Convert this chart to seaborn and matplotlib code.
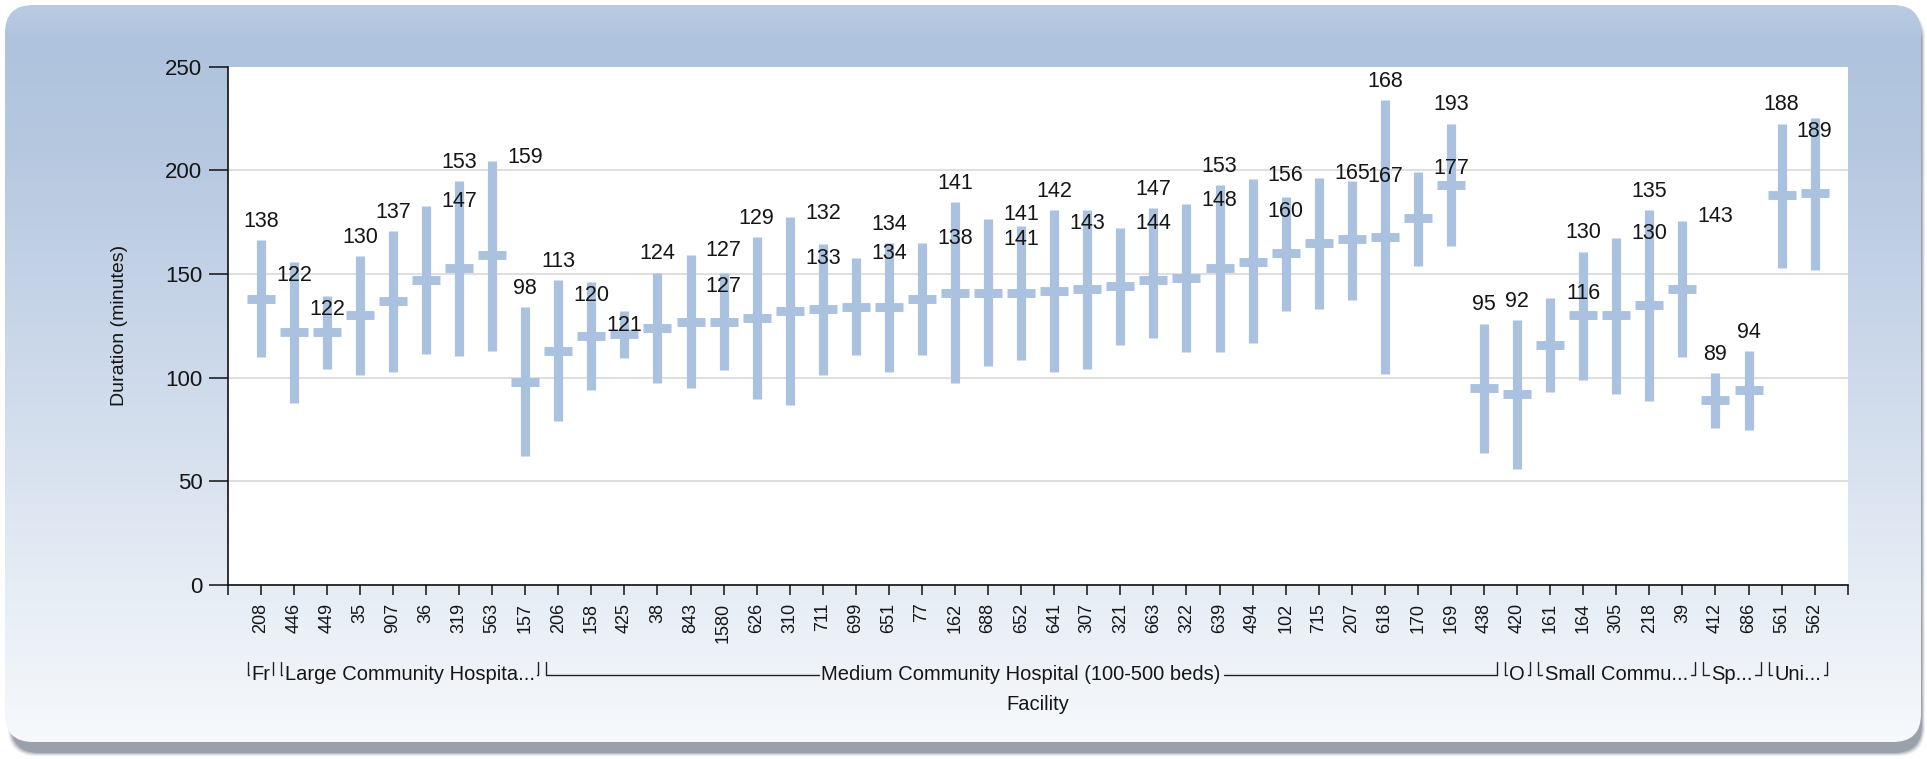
import numpy as np
import pandas as pd
import matplotlib
matplotlib.use("Agg")
import matplotlib.pyplot as plt
from matplotlib.patches import FancyBboxPatch
from matplotlib.colors import to_rgb
import seaborn as sns

# ---------------- data ----------------
facilities = ['208', '446', '449', '35', '907', '36', '319', '563', '157', '206',
              '158', '425', '38', '843', '1580', '626', '310', '711', '699', '651',
              '77', '162', '688', '652', '641', '307', '321', '663', '322', '639',
              '494', '102', '715', '207', '618', '170', '169', '438', '420', '161',
              '164', '305', '218', '39', '412', '686', '561', '562']
mean_minutes = [138, 122, 122, 130, 137, 147, 153, 159, 98, 113,
                120, 121, 124, 127, 127, 129, 132, 133, 134, 134,
                138, 141, 141, 141, 142, 143, 144, 147, 148, 153,
                156, 160, 165, 167, 168, 177, 193, 95, 92, 116,
                130, 130, 135, 143, 89, 94, 188, 189]
low_minutes = [109.8, 87.9, 104.3, 101.2, 102.6, 111.4, 110.5, 112.9, 62.3, 79.3,
               93.9, 109.6, 97.5, 94.9, 103.8, 89.6, 86.7, 101.2, 110.7, 102.6,
               110.7, 97.3, 105.5, 108.5, 102.6, 104.2, 115.8, 119.3, 112.4, 112.4,
               116.7, 132.1, 133.0, 137.3, 101.7, 153.9, 163.5, 63.5, 55.8, 93.2,
               99.0, 92.2, 88.7, 109.8, 75.9, 74.6, 153.0, 151.8]
high_minutes = [166.4, 155.8, 139.5, 158.5, 170.6, 182.8, 194.8, 204.3, 134.2, 147.2,
                146.2, 132.0, 150.7, 159.2, 150.7, 167.8, 177.4, 164.4, 157.7, 165.0,
                165.2, 184.5, 176.7, 173.3, 181.0, 181.0, 172.4, 181.9, 183.6, 193.0,
                195.6, 187.0, 196.5, 194.8, 233.9, 199.0, 222.5, 126.1, 127.9, 138.5,
                160.8, 167.3, 181.0, 175.5, 102.1, 112.9, 222.5, 225.3]
# label placement relative to the top of each range bar: a=above, b=below, r=right
label_place = ['a', 'b', 'b', 'a', 'a', 'r', 'a', 'r', 'a', 'a',
               'b', 'b', 'a', 'r', 'b', 'a', 'r', 'b', 'r', 'a',
               'r', 'a', 'r', 'b', 'a', 'b', 'r', 'a', 'r', 'a',
               'r', 'b', 'r', 'r', 'a', 'r', 'a', 'a', 'a', 'r',
               'a', 'r', 'a', 'r', 'a', 'a', 'a', 'b']
group_labels = ['Fr', 'Large Community Hospita...', 'Medium Community Hospital (100-500 beds)',
                'O', 'Small Commu...', 'Sp...', 'Uni...']
group_sizes = [1, 8, 29, 1, 5, 2, 2]
y_ticks = [0, 50, 100, 150, 200, 250]

# ---------------- style ----------------
sns.set_style("white")
plt.rcParams['font.family'] = ['Liberation Sans', 'DejaVu Sans']
BAR = '#aac2e0'
TXT = '#151515'

W, H, DPI = 1927, 759, 100
fig = plt.figure(figsize=(W / DPI, H / DPI), dpi=DPI)
fig.patch.set_facecolor('white')

# background panel with vertical gradient and soft shadow (bottom / right)
bg = fig.add_axes([0, 0, 1, 1], zorder=0)
bg.set_xlim(0, W)
bg.set_ylim(H, 0)
bg.axis('off')
for k, a in enumerate([0.10, 0.16, 0.24, 0.34]):
    sh = FancyBboxPatch((8 + k, 10 + k), 1917 - 2 * k, 746 - 2 * k,
                        boxstyle="round,pad=0,rounding_size=28",
                        fc='#5f6b78', ec='none', alpha=a)
    bg.add_patch(sh)
panel = FancyBboxPatch((5, 5), 1916, 737, boxstyle="round,pad=0,rounding_size=28",
                       fc='none', ec='none')
bg.add_patch(panel)
stops_y = [0, 40, 150, 350, 590, 742]
stops_c = ['#bccde2', '#afc3de', '#b6c8e0', '#cbd8ea', '#e6edf5', '#f7f9fc']
yy = np.arange(H)
cols = np.array([to_rgb(c) for c in stops_c])
grad = np.stack([np.interp(yy, stops_y, cols[:, j]) for j in range(3)], axis=1)
img = bg.imshow(grad[:, None, :], extent=(0, W, H, 0), aspect='auto', zorder=1)
img.set_clip_path(panel)

# main axes
L, R, T, B = 227.7, 1847.7, 66.7, 585.0
ax = fig.add_axes([L / W, 1 - B / H, (R - L) / W, (B - T) / H], zorder=2)
ax.set_facecolor('white')

df = pd.DataFrame({
    'Facility': np.repeat(facilities, 3),
    'Duration': np.column_stack([low_minutes, mean_minutes, high_minutes]).ravel(),
})
sns.pointplot(data=df, x='Facility', y='Duration', order=facilities,
              estimator='median', errorbar=('pi', 100), color=BAR,
              linestyle='none', marker='_', markersize=19.5, markeredgewidth=6.4,
              err_kws={'linewidth': 6.6, 'solid_capstyle': 'butt'}, ax=ax)

ax.set_xlim(-1, len(facilities))
ax.set_ylim(0, 250)
ax.set_yticks(y_ticks)
ax.set_axisbelow(True)
ax.yaxis.grid(True, color='#d9d9d9', lw=1.2)
ax.xaxis.grid(False)
for g in ax.get_ygridlines()[-1:]:
    g.set_visible(False)
for s in ['top', 'right']:
    ax.spines[s].set_visible(False)
for s in ['left', 'bottom']:
    ax.spines[s].set_color('#111111')
    ax.spines[s].set_linewidth(1.2)

ax.tick_params(axis='y', which='major', length=13.7, width=1.1, color='#111111',
               pad=4.5, labelsize=16, labelcolor=TXT, left=True)
ax.tick_params(axis='x', which='major', length=7.2, width=1.1, color='#111111',
               pad=5.5, labelsize=13, labelcolor=TXT, bottom=True)
ax.set_xticks(range(len(facilities)))
ax.set_xticklabels(facilities, rotation=90)
ax.set_xticks([-1, len(facilities)], minor=True)
ax.tick_params(axis='x', which='minor', length=7.2, width=1.1, color='#111111', bottom=True)

ax.set_ylabel('Duration (minutes)', fontsize=14, color=TXT, va='center')
ax.yaxis.set_label_coords(-0.0665, 0.5)
ax.set_xlabel('Facility', fontsize=14.5, color=TXT, va='center')
ax.xaxis.set_label_coords(0.5, -0.2296)

# value labels
offsets = {'a': (0, 13.5), 'b': (0, -10.0), 'r': (23.8, 3.0)}
for i, (m, h, p) in enumerate(zip(mean_minutes, high_minutes, label_place)):
    ax.annotate(str(m), xy=(i, h), xytext=offsets[p], textcoords='offset points',
                ha='center', va='center', fontsize=15.5, color=TXT, zorder=5)

# group brackets under the tick labels
xt = ax.get_xaxis_transform()
y_line, y_tick_top, y_text = -0.1745, -0.149, -0.1725
texts = []
start = 0
for lab, n in zip(group_labels, group_sizes):
    x0, x1 = start - 0.5, start + n - 0.5
    t = ax.text((x0 + x1) / 2, y_text, lab, transform=xt, ha='center', va='center',
                fontsize=14.5, color=TXT, clip_on=False)
    texts.append((t, x0, x1))
    start += n

fig.canvas.draw()
rend = fig.canvas.get_renderer()
inv = ax.transData.inverted()
for t, x0, x1 in texts:
    bb = t.get_window_extent(rend)
    tl = inv.transform((bb.x0, 0))[0] - 0.08
    tr = inv.transform((bb.x1, 0))[0] + 0.08
    a0, a1 = x0 + 0.12, x1 - 0.12
    kw = dict(transform=xt, color='#222222', lw=1.0, clip_on=False)
    ax.plot([a0, a0], [y_tick_top, y_line], **kw)
    ax.plot([a1, a1], [y_tick_top, y_line], **kw)
    if tl > a0:
        ax.plot([a0, tl], [y_line, y_line], **kw)
    if tr < a1:
        ax.plot([tr, a1], [y_line, y_line], **kw)

fig.savefig('out.png', dpi=DPI)
